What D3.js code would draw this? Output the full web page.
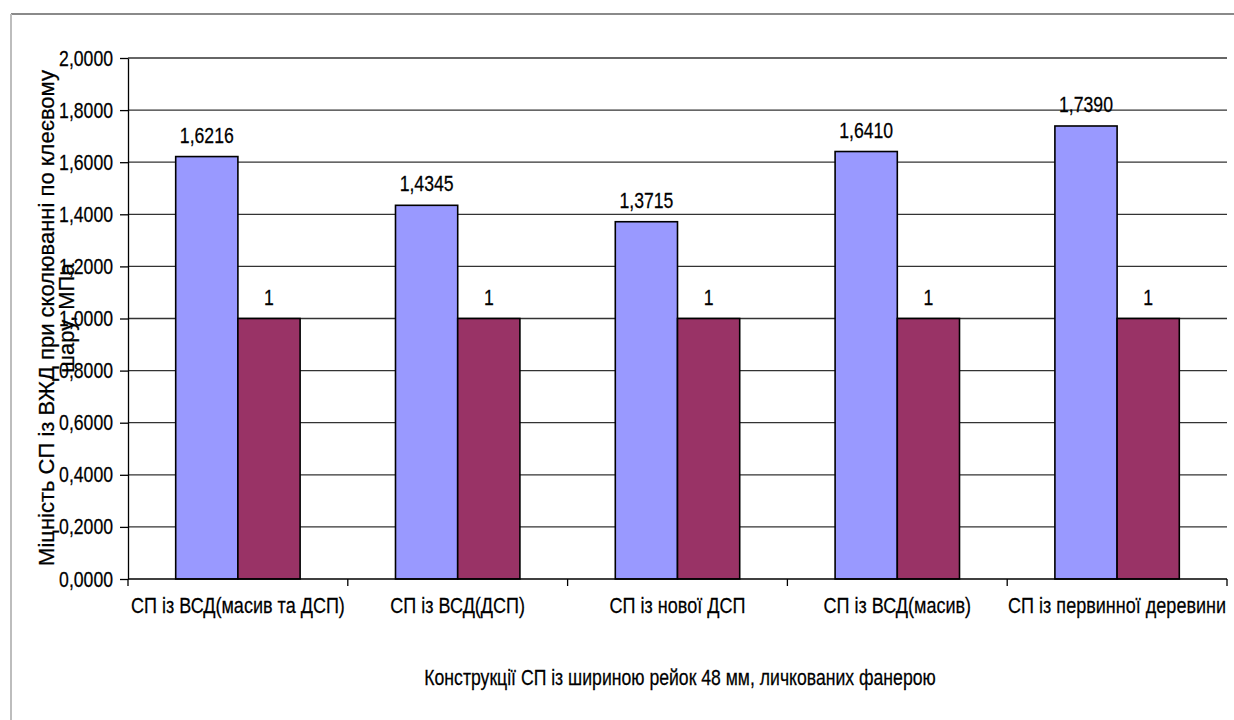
<!DOCTYPE html>
<html>
<head>
<meta charset="utf-8">
<script src="https://cdn.jsdelivr.net/npm/d3@7"></script>
<style>
  html, body { margin: 0; padding: 0; background: #fff; }
  svg { display: block; }
  text { font-family: "Liberation Sans", Arial, sans-serif; fill: #000; }
</style>
</head>
<body>
<svg id="chart" width="1234" height="720"></svg>
<script>
// Chart data
const categories = [
  "СП із ВСД(масив та ДСП)",
  "СП із ВСД(ДСП)",
  "СП із нової ДСП",
  "СП із ВСД(масив)",
  "СП із первинної деревини"
];
const seriesA = [1.6216, 1.4345, 1.3715, 1.6410, 1.7390];
const seriesB = [1, 1, 1, 1, 1];
const labelsA = ["1,6216", "1,4345", "1,3715", "1,6410", "1,7390"];
const labelsB = ["1", "1", "1", "1", "1"];
const yTicks = [0, 0.2, 0.4, 0.6, 0.8, 1.0, 1.2, 1.4, 1.6, 1.8, 2.0];
const yTitleLines = ["Міцність СП із ВЖД при сколюванні по клеєвому", "шару, МПа"];
const xTitle = "Конструкції СП із шириною рейок 48 мм, личкованих фанерою";

const svg = d3.select("#chart");
const margin = { left: 128, right: 1227, top: 58, bottom: 579 };
const SX = 0.82; // horizontal squeeze of the lettering

// Text placed at (px, py) with a horizontal squeeze
function label(parent, px, py, str, size, anchor) {
  return parent.append("text")
    .attr("transform", `translate(${px},${py}) scale(${SX},1)`)
    .attr("text-anchor", anchor || "middle")
    .attr("font-size", size)
    .attr("stroke", "#000").attr("stroke-width", 0.25)
    .text(str);
}

// Outer frame (top and left edges)
svg.append("line").attr("x1", 11).attr("x2", 1234).attr("y1", 14).attr("y2", 14)
  .attr("stroke", "#8a8a8a").attr("stroke-width", 2);
svg.append("line").attr("x1", 11).attr("x2", 11).attr("y1", 14).attr("y2", 720)
  .attr("stroke", "#bdbdbd").attr("stroke-width", 2);

const x = d3.scaleBand().domain(categories).range([margin.left, margin.right]).paddingInner(0).paddingOuter(0);
const y = d3.scaleLinear().domain([0, 2]).range([margin.bottom, margin.top]);

// Horizontal gridlines
svg.append("g").selectAll("line").data(yTicks.filter(d => d > 0)).join("line")
  .attr("x1", margin.left).attr("x2", margin.right)
  .attr("y1", d => y(d)).attr("y2", d => y(d))
  .attr("stroke", "#333").attr("stroke-width", 1.3);

// Bars
const barW = x.bandwidth() * 0.283;
const groups = svg.append("g");
categories.forEach((c, i) => {
  const cx = x(c) + x.bandwidth() / 2;
  groups.append("rect")
    .attr("x", cx - barW).attr("y", y(seriesA[i]))
    .attr("width", barW).attr("height", y(0) - y(seriesA[i]))
    .attr("fill", "#9999ff").attr("stroke", "#000").attr("stroke-width", 1.6);
  groups.append("rect")
    .attr("x", cx).attr("y", y(seriesB[i]))
    .attr("width", barW).attr("height", y(0) - y(seriesB[i]))
    .attr("fill", "#993366").attr("stroke", "#000").attr("stroke-width", 1.6);
  // Value labels
  label(groups, cx - barW / 2, y(seriesA[i]) - 14, labelsA[i], 21.5);
  label(groups, cx + barW / 2, y(seriesB[i]) - 14, labelsB[i], 21.5);
});

// Y axis
const yAxis = d3.axisLeft(y).tickValues(yTicks).tickSize(8).tickSizeOuter(0).tickFormat("");
const gy = svg.append("g").attr("transform", `translate(${margin.left},0)`).call(yAxis);
gy.select(".domain").attr("stroke", "#000").attr("stroke-width", 1.3);
gy.selectAll(".tick line").attr("stroke", "#000").attr("stroke-width", 1.3);
yTicks.forEach(v => {
  label(svg, 113, y(v) + 7.5, d3.format(".4f")(v).replace(".", ","), 21.5, "end");
});

// X axis with ticks at category boundaries
const gx = svg.append("g").attr("transform", `translate(0,${margin.bottom})`);
gx.append("line").attr("x1", margin.left).attr("x2", margin.right).attr("stroke", "#000").attr("stroke-width", 1.3);
const boundaries = categories.map(c => x(c)).concat([x(categories[categories.length - 1]) + x.bandwidth()]);
gx.selectAll("line.b").data(boundaries).join("line").attr("class", "b")
  .attr("x1", d => d).attr("x2", d => d).attr("y1", 0).attr("y2", 7)
  .attr("stroke", "#000").attr("stroke-width", 1.3);
categories.forEach(c => label(gx, x(c) + x.bandwidth() / 2, 34, c, 22));

// Axis titles
const yt = svg.append("text").attr("transform", "translate(54,318) rotate(-90)")
  .attr("text-anchor", "middle").attr("font-size", 22)
  .attr("stroke", "#000").attr("stroke-width", 0.25);
yt.append("tspan").attr("x", 0).attr("dy", 0).text(yTitleLines[0]);
yt.append("tspan").attr("x", 0).attr("dy", 20).text(yTitleLines[1]);

label(svg, 680, 685, xTitle, 21.5);
</script>
</body>
</html>
